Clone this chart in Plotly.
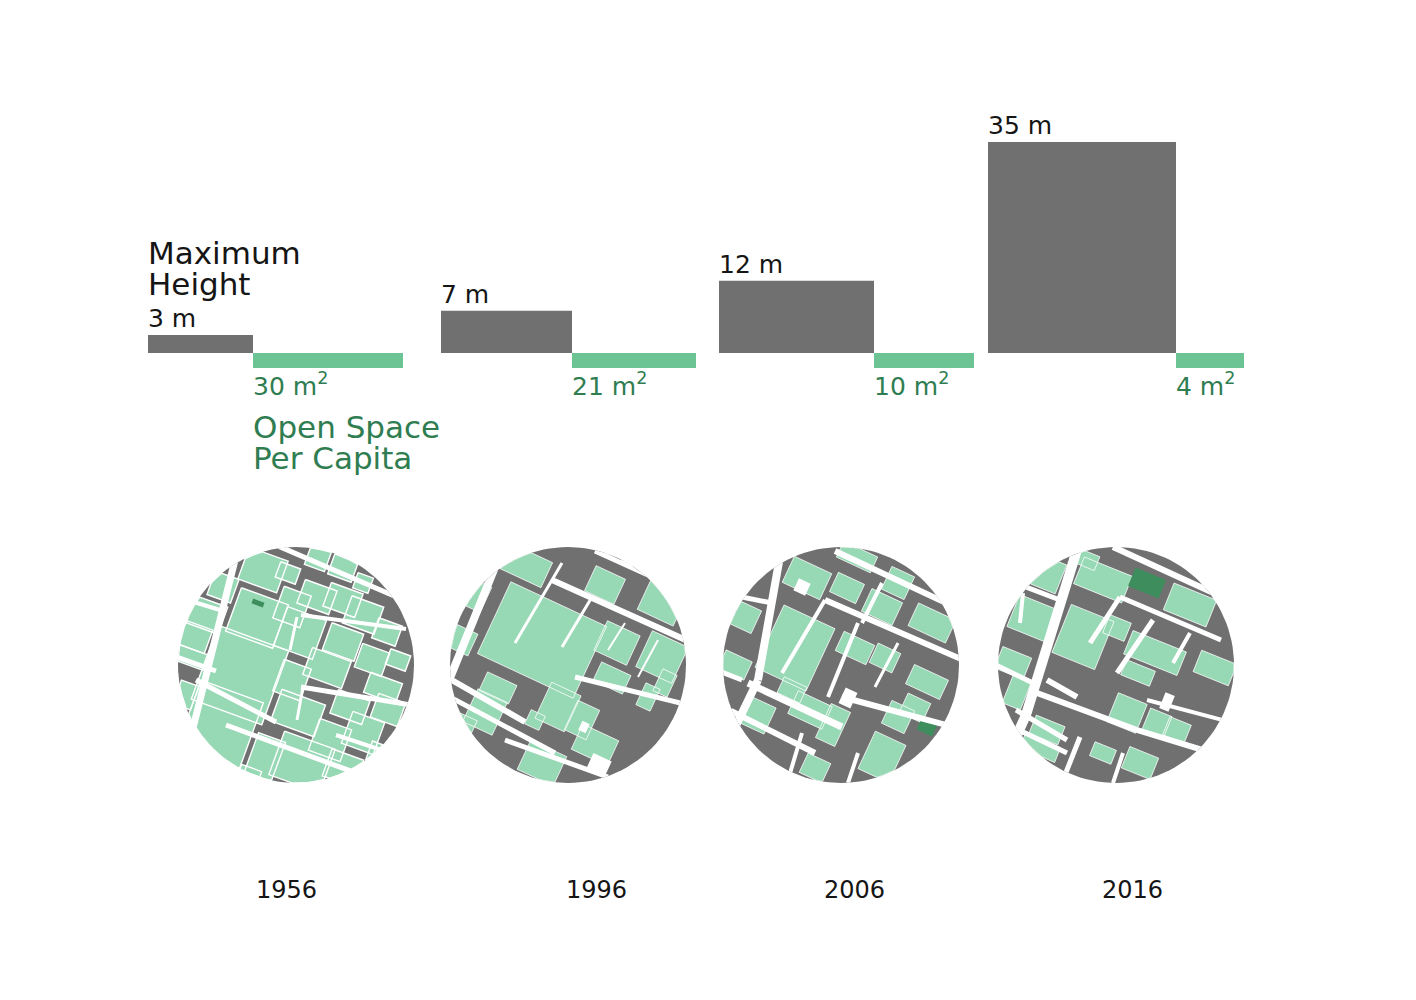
"""Maximum building height vs. open space per capita, 1956-2016, with map snippets."""
import math

import plotly.graph_objects as go

# ── data ─────────────────────────────────────────────────────────────────────
YEARS = ["1956", "1996", "2006", "2016"]
MAX_HEIGHT_M = [3, 7, 12, 35]
OPEN_SPACE_M2 = [30, 21, 10, 4]

# ── style / layout (page pixels) ─────────────────────────────────────────────
GREY = "#707070"
BAR_GREEN = "#6cc494"
MAP_GREEN = "#97d8b5"
DARK_GREEN = "#3e8d5d"
TEXT_GREEN = "#2f7d51"
TEXT_DARK = "#151515"
FONT = "DejaVu Sans"

PAGE_PAD = 8            # browser default body margin
FIG_W, FIG_H = 1400, 984

HEIGHT_BAR_LEFT = [148, 441, 719, 988]
HEIGHT_BAR_WIDTH = [105, 131, 155, 188]
SPACE_BAR_WIDTH = [150, 124, 100, 68]
BASELINE_PX = 353
PX_PER_M = 6.03
SPACE_BAR_DEPTH = 15 / PX_PER_M

MAP_CENTER_X = [296, 568, 841, 1116]
MAP_CENTER_Y = 665
MAP_RADIUS = 118
YEAR_LABEL_X = [286, 596, 854, 1132]
YEAR_LABEL_Y = 890

# ── map snippets: street bands (x0, y0, x1, y1, width) and green plots
#    (x, y, w, h) in pixels relative to each circle centre, rotated by ANGLE ──
MAP_ANGLE = [20, 25, 25, 22]
MAP_BLOCK_SCALE = [1.25, 1.2, 1.25, 1.15]

STREETS = [
    [(-56, -125, -106, 75, 7), (-125, -10, -80, 6, 5), (-100, 15, -20, 57, 5),
     (-25, -122, 110, -64, 5), (5, -50, 110, -36, 4), (5, 22, 115, 40, 5),
     (-70, 60, 60, 108, 5), (-125, -70, -76, -55, 4), (1, -48, -6, -15, 3),
     (7, 22, 1, 55, 3), (40, 70, 125, 98, 4)],
    [(-66, -115, -125, 30, 8), (-16, -85, 120, -24, 6), (27, -114, 80, -90, 5),
     (7, 12, 120, 40, 5), (-118, 14, -43, 57, 6), (-118, 32, -13, 88, 5),
     (-63, 75, 40, 112, 5), (-6, -102, -53, -22, 3), (24, -68, -6, -18, 3),
     (57, -42, 40, -15, 2), (90, -25, 70, 12, 2)],
    [(-59, -120, -83, 15, 8), (-83, 15, -112, 75, 8), (-120, -72, -69, -62, 5),
     (-125, 5, -99, 15, 5), (-6, -114, 120, -55, 6), (-16, -65, 120, -6, 6),
     (-93, 18, 1, 62, 7), (1, 32, 120, 64, 6), (-110, 46, -26, 88, 6),
     (-16, -65, -59, 8, 4), (17, -42, -13, 32, 4), (41, -82, 21, -42, 4),
     (57, -22, 34, 22, 3), (-39, 68, -53, 115, 4), (17, 88, 7, 118, 4)],
    [(-36, -125, -90, 50, 10), (-90, 50, -118, 112, 10), (-95, -80, -56, -65, 5),
     (-93, -72, -96, -42, 4), (-120, 0, -83, 18, 5), (-69, 15, -39, 32, 6),
     (-100, 45, -49, 75, 5), (-79, 28, 21, 65, 6), (21, 65, 120, 95, 6),
     (-3, -118, 115, -64, 6), (4, -68, 105, -25, 5), (4, -68, -26, -22, 5),
     (37, -45, 1, 8, 5), (74, -32, 57, -2, 4), (31, 35, 110, 56, 4),
     (-36, 72, -53, 115, 5), (7, 88, -3, 118, 4), (-95, 66, -49, 88, 5)],
]

GREEN_PLOTS = [
    [(-33, -95, 33, 27), (-8, -92, 17, 13), (22, -107, 17, 17), (47, -97, 20, 17),
     (67, -82, 13, 13), (-73, -78, 20, 20), (-89, -50, 27, 23), (-101, -28, 23, 20),
     (-106, -8, 27, 13), (-39, -47, 40, 37), (-4, -58, 23, 27), (21, -68, 27, 20),
     (47, -65, 27, 20), (67, -50, 27, 23), (91, -33, 20, 17), (4, -32, 33, 33),
     (47, -23, 27, 23), (76, -5, 23, 20), (102, -5, 17, 13), (-56, 10, 60, 63),
     (-4, 15, 23, 27), (31, 3, 33, 23), (-76, 60, 53, 57), (54, 42, 27, 20),
     (87, 23, 27, 17), (92, 45, 23, 20), (2, 48, 37, 27), (-31, 92, 23, 33),
     (6, 97, 43, 37), (34, 75, 27, 27), (67, 68, 27, 27), (84, 92, 20, 20),
     (47, 103, 27, 23), (-48, 113, 17, 17), (-110, 30, 15, 20), (-92, 95, 20, 16)],
    [(-26, -25, 88, 66), (-43, -100, 40, 23), (-93, -70, 20, 23), (-106, -25, 20, 20),
     (37, -80, 27, 23), (94, -62, 33, 27), (49, -22, 30, 27), (94, -8, 33, 33),
     (67, -107, 20, 14), (44, 13, 27, 17), (80, 32, 13, 20), (-10, 42, 27, 33),
     (14, 55, 20, 27), (-83, 47, 27, 30), (-106, 60, 20, 17), (-26, 98, 33, 27),
     (27, 80, 33, 23), (-70, 23, 27, 17), (97, 18, 13, 20), (-33, 55, 13, 13)],
    [(-46, -17, 45, 55), (-34, -87, 33, 23), (-96, -48, 20, 20), (-106, 0, 23, 16),
     (6, -77, 23, 17), (16, -108, 30, 14), (57, -82, 20, 20), (41, -58, 27, 20),
     (91, -42, 33, 20), (14, -17, 27, 17), (44, -7, 20, 17), (86, 17, 30, 17),
     (-49, 25, 20, 14), (-31, 45, 30, 20), (-8, 60, 17, 30), (-84, 50, 23, 23),
     (41, 92, 27, 33), (57, 52, 20, 20), (74, 43, 20, 17), (-26, 103, 20, 17)],
    [(-71, -92, 30, 27), (-13, -85, 45, 25), (-28, -105, 17, 13), (74, -60, 40, 25),
     (-84, -47, 35, 30), (-103, -2, 27, 20), (-33, -28, 40, 45), (1, -37, 20, 17),
     (39, -12, 50, 22), (22, 8, 27, 14), (99, 3, 33, 20), (-99, 27, 17, 27),
     (-69, 65, 27, 17), (11, 48, 27, 27), (41, 58, 20, 20), (61, 65, 20, 17),
     (-76, 83, 33, 14), (-13, 88, 20, 13), (24, 98, 27, 20)],
]

DARK_PLOTS = [
    [(-38, -62, 12, 5)],
    [],
    [(86, 62, 17, 13)],
    [(31, -82, 33, 20)],
]

EMPTY_LOTS = [
    [],
    [(31, 100, 20, 17), (16, 62, 8, 10)],
    [(-39, -78, 13, 13), (7, 33, 13, 17)],
    [(51, 37, 10, 17)],
]


# ── geometry helpers ─────────────────────────────────────────────────────────

def disc(r, n=120):
    return [(r * math.cos(2 * math.pi * k / n), r * math.sin(2 * math.pi * k / n))
            for k in range(n)]


def _side(a, b, p):
    return (b[0] - a[0]) * (p[1] - a[1]) - (b[1] - a[1]) * (p[0] - a[0])


def _meet(a, b, p, q):
    sp, sq = _side(a, b, p), _side(a, b, q)
    t = sp / (sp - sq)
    return (p[0] + t * (q[0] - p[0]), p[1] + t * (q[1] - p[1]))


def clip(poly, ring):
    """Sutherland-Hodgman clip of poly against the convex ring."""
    ref = _side(ring[0], ring[1], (0, 0)) > 0
    out = list(poly)
    for i in range(len(ring)):
        a, b = ring[i], ring[(i + 1) % len(ring)]
        src, out = out, []
        for j in range(len(src)):
            p, q = src[j - 1], src[j]
            pin = (_side(a, b, p) > 0) == ref
            qin = (_side(a, b, q) > 0) == ref
            if qin:
                if not pin:
                    out.append(_meet(a, b, p, q))
                out.append(q)
            elif pin:
                out.append(_meet(a, b, p, q))
        if not out:
            return []
    return out


def rect(x, y, w, h, deg, k=1.0):
    c, s = math.cos(math.radians(deg)), math.sin(math.radians(deg))
    w, h = w * k, h * k
    pts = [(-w / 2, -h / 2), (w / 2, -h / 2), (w / 2, h / 2), (-w / 2, h / 2)]
    return [(x + u * c - v * s, y + u * s + v * c) for u, v in pts]


def band(x0, y0, x1, y1, w):
    dx, dy = x1 - x0, y1 - y0
    n = math.hypot(dx, dy)
    nx, ny = -dy / n * w / 2, dx / n * w / 2
    return [(x0 + nx, y0 + ny), (x1 + nx, y1 + ny), (x1 - nx, y1 - ny), (x0 - nx, y0 - ny)]


def add_polys(fig, polys, cx, cy, fill, line_color=None, line_width=0.0):
    xs, ys = [], []
    for poly in polys:
        if len(poly) < 3:
            continue
        xs += [cx + p[0] for p in poly] + [cx + poly[0][0], None]
        ys += [cy + p[1] for p in poly] + [cy + poly[0][1], None]
    if not xs:
        return
    fig.add_trace(go.Scatter(
        x=xs, y=ys, xaxis="x", yaxis="y2", mode="lines",
        fill="toself", fillcolor=fill,
        line=dict(color=line_color or fill, width=line_width),
        hoverinfo="skip", showlegend=False,
    ))


# ── figure ───────────────────────────────────────────────────────────────────
fig = go.Figure()

# Maximum height (grey, above baseline)
height_x = [l + w / 2 for l, w in zip(HEIGHT_BAR_LEFT, HEIGHT_BAR_WIDTH)]
fig.add_trace(go.Bar(
    x=height_x, y=MAX_HEIGHT_M, width=HEIGHT_BAR_WIDTH, base=0,
    marker=dict(color=GREY, line=dict(width=0)),
    hoverinfo="skip", showlegend=False,
))

# Open space per capita (green, below baseline, right of each grey bar)
space_left = [l + w for l, w in zip(HEIGHT_BAR_LEFT, HEIGHT_BAR_WIDTH)]
space_x = [l + w / 2 for l, w in zip(space_left, SPACE_BAR_WIDTH)]
fig.add_trace(go.Bar(
    x=space_x, y=[-SPACE_BAR_DEPTH] * len(OPEN_SPACE_M2), width=SPACE_BAR_WIDTH, base=0,
    marker=dict(color=BAR_GREEN, line=dict(width=0)),
    customdata=OPEN_SPACE_M2, hovertemplate="%{customdata} m²<extra></extra>",
    showlegend=False,
))

annotations = []
for left, h in zip(HEIGHT_BAR_LEFT, MAX_HEIGHT_M):
    annotations.append(dict(
        x=left - 2, y=h, xref="x", yref="y", xanchor="left", yanchor="bottom",
        text=f"{h} m", showarrow=False,
        font=dict(family=FONT, size=25, color=TEXT_DARK),
    ))
for left, s in zip(space_left, OPEN_SPACE_M2):
    annotations.append(dict(
        x=left - 2, y=-SPACE_BAR_DEPTH, xref="x", yref="y", xanchor="left", yanchor="top",
        yshift=2, text=f"{s} m<sup>2</sup>", showarrow=False,
        font=dict(family=FONT, size=25, color=TEXT_GREEN),
    ))

# series titles: one annotation per line to keep the tight leading of the original
for txt, y in (("Maximum", 253), ("Height", 284)):
    annotations.append(dict(
        x=146, y=y, xref="x", yref="y2", xanchor="left", yanchor="middle",
        text=txt, showarrow=False, font=dict(family=FONT, size=31, color=TEXT_DARK),
    ))
for txt, y in (("Open Space", 427), ("Per Capita", 458)):
    annotations.append(dict(
        x=251, y=y, xref="x", yref="y2", xanchor="left", yanchor="middle",
        text=txt, showarrow=False, font=dict(family=FONT, size=31, color=TEXT_GREEN),
    ))

for year, x in zip(YEARS, YEAR_LABEL_X):
    annotations.append(dict(
        x=x, y=YEAR_LABEL_Y, xref="x", yref="y2", xanchor="center", yanchor="middle",
        text=year, showarrow=False, font=dict(family=FONT, size=24, color=TEXT_DARK),
    ))

# Map snippets
ring = disc(MAP_RADIUS)
for i, cx in enumerate(MAP_CENTER_X):
    ang, k = MAP_ANGLE[i], MAP_BLOCK_SCALE[i]
    cy = MAP_CENTER_Y
    add_polys(fig, [ring], cx, cy, GREY)
    add_polys(fig, [clip(rect(*b, ang, k), ring) for b in GREEN_PLOTS[i]], cx, cy,
              MAP_GREEN, "white", 1.4 if i == 0 else 0.8)
    add_polys(fig, [clip(rect(*b, ang), ring) for b in DARK_PLOTS[i]], cx, cy, DARK_GREEN)
    add_polys(fig, [clip(rect(*b, ang), ring) for b in EMPTY_LOTS[i]], cx, cy, "white")
    add_polys(fig, [clip(band(*s), ring) for s in STREETS[i]], cx, cy, "white")

# Axes in page pixels; the height axis is scaled in metres around the baseline
y_top = (BASELINE_PX - PAGE_PAD) / PX_PER_M
y_bottom = y_top - FIG_H / PX_PER_M

fig.update_layout(
    width=FIG_W, height=FIG_H,
    margin=dict(l=0, r=0, t=0, b=0),
    paper_bgcolor="white", plot_bgcolor="white",
    barmode="overlay", showlegend=False,
    xaxis=dict(range=[PAGE_PAD, PAGE_PAD + FIG_W], visible=False, fixedrange=True),
    yaxis=dict(range=[y_bottom, y_top], visible=False, fixedrange=True),
    yaxis2=dict(range=[PAGE_PAD + FIG_H, PAGE_PAD], overlaying="y", visible=False,
                fixedrange=True),
    annotations=annotations,
    font=dict(family=FONT),
)

fig.write_html("out.html")
